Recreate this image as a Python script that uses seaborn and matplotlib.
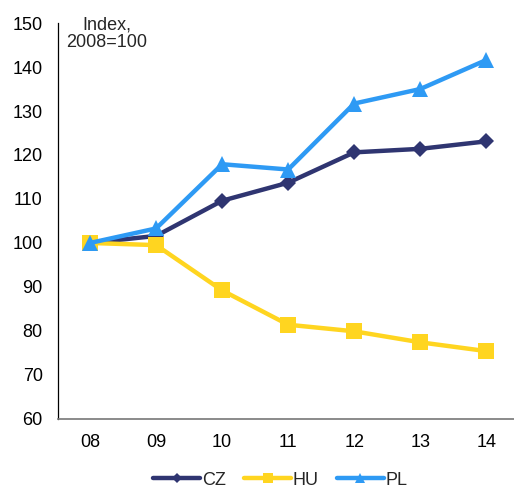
import matplotlib
matplotlib.use("Agg")
import matplotlib.pyplot as plt
import seaborn as sns
import pandas as pd

# ------------------------------
# Data (index, 2008=100)
# ------------------------------
years = ["08", "09", "10", "11", "12", "13", "14"]
cz = [100, 101.6, 109.6, 113.7, 120.6, 121.4, 123.1]
hu = [100, 99.5, 89.2, 81.4, 79.9, 77.4, 75.4]
pl = [100, 103.3, 117.9, 116.7, 131.7, 135.0, 141.6]

df = pd.DataFrame({"year": years * 3,
                   "value": cz + hu + pl,
                   "country": ["CZ"] * 7 + ["HU"] * 7 + ["PL"] * 7})

sns.set_theme(style="white")
plt.rcParams["font.family"] = ["Liberation Sans", "DejaVu Sans"]

palette = {"CZ": "#2F3571", "HU": "#FFD520", "PL": "#2E9AF4"}
markers = {"CZ": "D", "HU": "s", "PL": "^"}
sizes = {"CZ": 8, "HU": 11, "PL": 11}

fig = plt.figure(figsize=(5.14, 4.91), dpi=100)
ax = fig.add_axes([0.113, 0.147, 0.887, 0.806])

for c in ["CZ", "HU", "PL"]:
    sns.lineplot(data=df[df.country == c], x="year", y="value", ax=ax,
                 color=palette[c], marker=markers[c], markersize=sizes[c],
                 markeredgewidth=0, linewidth=3.2, label=c, sort=False)

ax.set_ylim(60, 150)
ax.set_xlim(-0.485, 6.42)
ax.set_yticks(range(60, 151, 10))
ax.set_xlabel("")
ax.set_ylabel("")
ax.tick_params(axis="both", labelsize=13, length=0, colors="black")
ax.tick_params(axis="x", pad=11)
ax.tick_params(axis="y", pad=11)
for s in ["top", "right"]:
    ax.spines[s].set_visible(False)
ax.spines["left"].set_color("black")
ax.spines["left"].set_linewidth(0.9)
ax.spines["bottom"].set_color("#777777")
ax.spines["bottom"].set_linewidth(1.2)

ax.text(0.107, 0.972, "Index,\n2008=100", transform=ax.transAxes,
        ha="center", va="center", fontsize=13, linespacing=1.05)

ax.legend(loc="center", bbox_to_anchor=(0.488, -0.155), ncol=3, frameon=False,
          fontsize=13, handlelength=2.6, handletextpad=0.1, columnspacing=1.0,
          markerscale=0.7)

plt.savefig("out.png", dpi=100)
